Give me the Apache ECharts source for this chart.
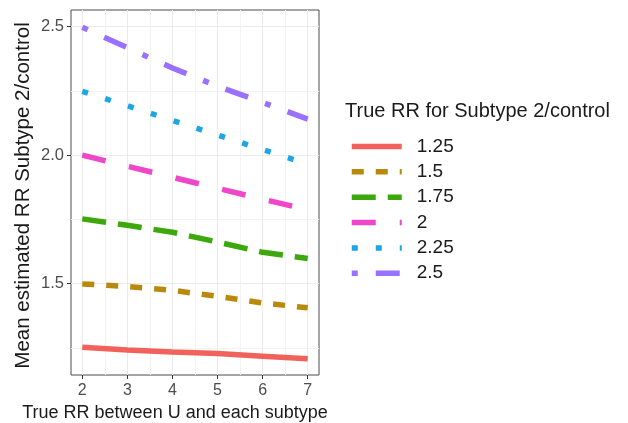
<!DOCTYPE html>
<html>
<head>
<meta charset="utf-8">
<script src="https://cdn.jsdelivr.net/npm/echarts@6/dist/echarts.min.js"></script>
<style>html,body{margin:0;padding:0;background:#fff;}#c{width:628px;height:423px;}</style>
</head>
<body>
<div id="c"></div>
<script>
// ---- data ----
const xValues = [2, 3, 4, 5, 6, 7];
const seriesNames = ['1.25', '1.5', '1.75', '2', '2.25', '2.5'];
const rr125 = [1.253, 1.242, 1.234, 1.228, 1.218, 1.208];
const rr150 = [1.499, 1.489, 1.474, 1.451, 1.425, 1.406];
const rr175 = [1.752, 1.727, 1.700, 1.662, 1.622, 1.598];
const rr200 = [2.000, 1.957, 1.914, 1.871, 1.829, 1.787];
const rr225 = [2.248, 2.192, 2.135, 2.078, 2.022, 1.965];
const rr250 = [2.497, 2.418, 2.339, 2.268, 2.205, 2.140];
const xTicks = [2, 3, 4, 5, 6, 7];
const xMinorTicks = [2.5, 3.5, 4.5, 5.5, 6.5];
const yTicks = [1.5, 2.0, 2.5];
const yMinorTicks = [1.25, 1.75, 2.25];

const allValues = [rr125, rr150, rr175, rr200, rr225, rr250];
const colors = ['#F2625C', '#B8890B', '#3DA80C', '#F046CA', '#1DA6E6', '#9A70FF'];
const dashes = ['solid', [12, 12], [24, 12], [24, 24], [6, 18], [6, 18, 24, 18]];
const LW = 5.5;

const xMin = 1.75, xMax = 7.25;
const yMin = 1.1448, yMax = 2.5645;

const chart = echarts.init(document.getElementById('c'), null, {renderer: 'canvas'});
const font = 'Liberation Sans, Arial, Helvetica, sans-serif';

const series = seriesNames.map((n, i) => ({
  name: n,
  type: 'line',
  xAxisIndex: 0,
  yAxisIndex: 0,
  data: xValues.map((x, j) => [x, allValues[i][j]]),
  symbol: 'none',
  showSymbol: false,
  color: colors[i],
  lineStyle: {width: LW, color: colors[i], type: dashes[i], cap: 'butt'},
  emphasis: {disabled: true},
  animation: false
}));

chart.setOption({
  animation: false,
  backgroundColor: '#ffffff',
  grid: {left: 71, right: 309, top: 10, bottom: 48, outerBoundsMode: 'none', containLabel: false,
         show: true, borderColor: '#4a4a4a', borderWidth: 1, backgroundColor: 'transparent'},
  graphic: [{
    type: 'text', left: 345, top: 101,
    style: {text: 'True RR for Subtype 2/control', font: '20px ' + font, fill: '#1a1a1a'}
  }],
  legend: {
    show: true,
    orient: 'vertical',
    left: 349, top: 136.5, padding: 0,
    itemWidth: 50, itemHeight: 20, itemGap: 5.35,
    itemStyle: {opacity: 0, borderWidth: 0},
    lineStyle: {width: LW},
    textStyle: {fontSize: 19, fontFamily: font, color: '#1a1a1a', padding: [0, 0, 0, 10], lineHeight: 20},
    data: seriesNames
  },
  xAxis: [{
    type: 'value', min: xMin, max: xMax,
    name: 'True RR between U and each subtype',
    nameLocation: 'middle', nameGap: 21,
    nameTextStyle: {fontSize: 18, fontFamily: font, color: '#1a1a1a', padding: [0, 40, 0, 0]},
    axisLine: {show: false},
    axisTick: {show: true, length: 4, lineStyle: {color: '#333', width: 1}, customValues: xTicks},
    axisLabel: {show: true, margin: 8, fontSize: 16, fontFamily: font, color: '#4d4d4d', customValues: xTicks, formatter: v => String(v)},
    splitLine: {show: true, lineStyle: {color: '#EBEBEB', width: 1}}
  }, {
    type: 'value', min: xMin, max: xMax, position: 'bottom',
    axisLine: {show: false},
    axisTick: {show: false, customValues: xMinorTicks},
    axisLabel: {show: false, customValues: xMinorTicks},
    splitLine: {show: true, lineStyle: {color: '#F3F3F3', width: 1}}
  }],
  yAxis: [{
    type: 'value', min: yMin, max: yMax,
    name: 'Mean estimated RR Subtype 2/control',
    nameLocation: 'middle', nameGap: 37,
    nameTextStyle: {fontSize: 20.5, fontFamily: font, color: '#1a1a1a', padding: [0, 6, 0, 0]},
    axisLine: {show: false},
    axisTick: {show: true, length: 4, lineStyle: {color: '#333', width: 1}, customValues: yTicks},
    axisLabel: {show: true, margin: 7, fontSize: 16.5, fontFamily: font, color: '#4d4d4d', customValues: yTicks, formatter: v => v.toFixed(1)},
    splitLine: {show: true, lineStyle: {color: '#EBEBEB', width: 1}}
  }, {
    type: 'value', min: yMin, max: yMax, position: 'left',
    axisLine: {show: false},
    axisTick: {show: false, customValues: yMinorTicks},
    axisLabel: {show: false, customValues: yMinorTicks},
    splitLine: {show: true, lineStyle: {color: '#F3F3F3', width: 1}}
  }],
  series: series
});
</script>
</body>
</html>
